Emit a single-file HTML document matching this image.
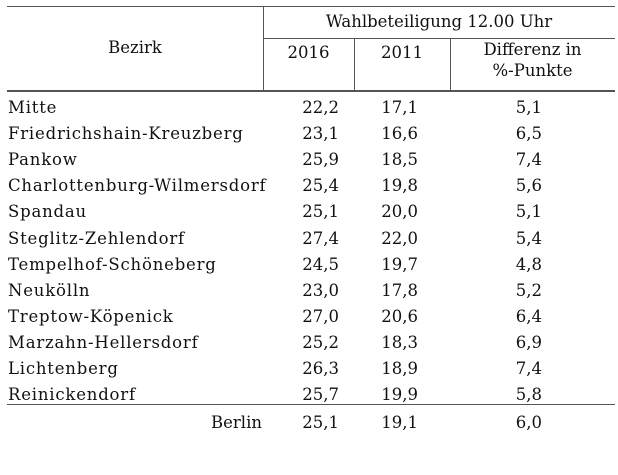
<!DOCTYPE html>
<html><head><meta charset="utf-8"><style>
body{margin:0;background:#fff;width:618px;height:475px;overflow:hidden;position:relative;font-family:"DejaVu Serif","Liberation Serif",serif;font-size:16.5px;color:#111}
.t{position:absolute;white-space:nowrap;line-height:20px;height:20px}
.n{letter-spacing:0.8px}
.l{position:absolute;background:#555}
</style></head><body>
<div>
<div class="l" style="left:7px;top:6px;width:608px;height:1px"></div>
<div class="l" style="left:263px;top:38px;width:352px;height:1px"></div>
<div class="l" style="left:7px;top:90px;width:608px;height:2px"></div>
<div class="l" style="left:263px;top:6px;width:1px;height:85px"></div>
<div class="l" style="left:354px;top:38px;width:1px;height:53px"></div>
<div class="l" style="left:450px;top:38px;width:1px;height:53px"></div>
<div class="l" style="left:7px;top:404px;width:608px;height:1px"></div>
<div class="t" style="left:35px;width:200px;text-align:center;top:38px">Bezirk</div>
<div class="t" style="left:263px;width:352px;text-align:center;top:12px">Wahlbeteiligung 12.00 Uhr</div>
<div class="t" style="left:263px;width:91px;text-align:center;top:43px">2016</div>
<div class="t" style="left:354px;width:96px;text-align:center;top:43px">2011</div>
<div class="t" style="left:450px;width:165px;text-align:center;top:40px">Differenz in</div>
<div class="t" style="left:450px;width:165px;text-align:center;top:61px">%-Punkte</div>
<div id="rows"></div>
</div>
<script>
const districts=["Mitte","Friedrichshain-Kreuzberg","Pankow","Charlottenburg-Wilmersdorf","Spandau","Steglitz-Zehlendorf","Tempelhof-Schöneberg","Neukölln","Treptow-Köpenick","Marzahn-Hellersdorf","Lichtenberg","Reinickendorf"];
const v2016=["22,2","23,1","25,9","25,4","25,1","27,4","24,5","23,0","27,0","25,2","26,3","25,7"];
const v2011=["17,1","16,6","18,5","19,8","20,0","22,0","19,7","17,8","20,6","18,3","18,9","19,9"];
const vdiff=["5,1","6,5","7,4","5,6","5,1","5,4","4,8","5,2","6,4","6,9","7,4","5,8"];
const total=["Berlin","25,1","19,1","6,0"];
const rows=document.getElementById('rows');
function cell(text,top,style,name,cls){
  const d=document.createElement('div');
  d.className='t'+(cls?' '+cls:'');
  
  
  d.style.cssText='top:'+top+'px;'+style;
  d.textContent=text;
  rows.appendChild(d);
}
districts.forEach((n,i)=>{
  const top=98+i*26.1;
  cell(n,top,'left:8px;','district-name','n');
  cell(v2016[i],top,'right:279px;','value-2016');
  cell(v2011[i],top,'right:200px;','value-2011');
  cell(vdiff[i],top,'right:76px;','value-diff');
});
const bt=413;
cell(total[0],bt,'right:356px;','berlin-label');
cell(total[1],bt,'right:279px;','berlin-2016');
cell(total[2],bt,'right:200px;','berlin-2011');
cell(total[3],bt,'right:76px;','berlin-diff');
</script>
</body></html>
